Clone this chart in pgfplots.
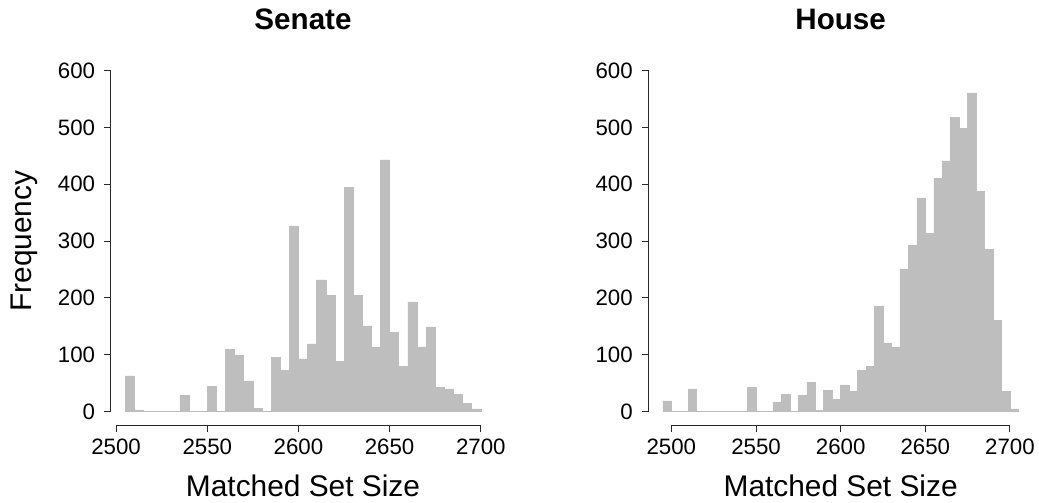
\documentclass[border=0pt]{standalone}
\usepackage{pgfplots}
\pgfplotsset{compat=1.18}
\usepackage{fontspec}
\setmainfont{Liberation Sans}
\definecolor{barcol}{RGB}{190,190,190}
\definecolor{axcol}{RGB}{40,40,40}

\pgfplotsset{
  rstyle/.style={
    scale only axis,
    width=288pt, height=276.2pt,
    ymin=-24, ymax=624,
    axis lines*=left,
    axis line style={draw=none},
    tick align=outside,
    major tick length=5.25pt,
    tick style={axcol, line width=0.75pt},
    xtick={2500,2550,...,2700},
    ytick={0,100,...,600},
    /pgf/number format/1000 sep={},
    /pgf/number format/assume math mode=true,
    ticklabel style={font=\fontsize{16.7}{20}\selectfont},
    xticklabel style={inner sep=0pt, anchor=north, yshift=-4.75pt},
    yticklabel style={inner sep=0pt, anchor=east, xshift=-6.5pt},
    xlabel={Matched Set Size},
    xlabel style={font=\fontsize{22.4}{26}\selectfont, inner sep=0pt, at={(axis description cs:0.5,0)}, anchor=base, yshift=-53.5pt},
    title style={font=\bfseries\fontsize{22.2}{26}\selectfont, at={(axis description cs:0.5,1)}, anchor=base, yshift=14.25pt},
    clip=false,
  }
}

\begin{document}
\begin{tikzpicture}
\useasboundingbox (0,0) rectangle (779.25pt,377.25pt);

\begin{axis}[rstyle, at={(83.25pt,58.3pt)}, anchor=south west,
  xmin=2497.2, xmax=2707.8,
  title={Senate},
  ylabel={Frequency},
  ylabel style={font=\fontsize{22.4}{26}\selectfont, at={(axis description cs:0,0.5)}, anchor=base, yshift=59.5pt},
]
\addplot[ybar interval, fill=barcol, draw=barcol, line width=0.4pt] coordinates {
(2505,63) (2510,3) (2515,0) (2520,0) (2525,0) (2530,0) (2535,28) (2540,0)
(2545,1) (2550,45) (2555,1) (2560,110) (2565,100) (2570,54) (2575,6) (2580,1)
(2585,96) (2590,73) (2595,327) (2600,93) (2605,119) (2610,232) (2615,205) (2620,89)
(2625,394) (2630,205) (2635,151) (2640,114) (2645,443) (2650,140) (2655,80) (2660,193)
(2665,114) (2670,149) (2675,42) (2680,40) (2685,31) (2690,15) (2695,5) (2700,0)
};
\draw[axcol, line width=0.75pt] (axis cs:2500,-24) -- (axis cs:2700,-24);
\draw[axcol, line width=0.75pt] (axis cs:2497.2,0) -- (axis cs:2497.2,600);
\end{axis}

\begin{axis}[rstyle, at={(486.5pt,58.3pt)}, anchor=south west,
  xmin=2486.6, xmax=2713.4,
  title={House},
]
\addplot[ybar interval, fill=barcol, draw=barcol, line width=0.4pt] coordinates {
(2495,19) (2500,0) (2505,0) (2510,40) (2515,0) (2520,0) (2525,0) (2530,0)
(2535,0) (2540,0) (2545,42) (2550,0) (2555,0) (2560,17) (2565,31) (2570,0)
(2575,28) (2580,52) (2585,2) (2590,38) (2595,22) (2600,47) (2605,35) (2610,73)
(2615,80) (2620,186) (2625,121) (2630,114) (2635,251) (2640,293) (2645,376) (2650,313)
(2655,411) (2660,441) (2665,518) (2670,499) (2675,561) (2680,387) (2685,286) (2690,161)
(2695,36) (2700,5) (2705,0)
};
\draw[axcol, line width=0.75pt] (axis cs:2500,-24) -- (axis cs:2700,-24);
\draw[axcol, line width=0.75pt] (axis cs:2486.6,0) -- (axis cs:2486.6,600);
\end{axis}
\end{tikzpicture}
\end{document}
